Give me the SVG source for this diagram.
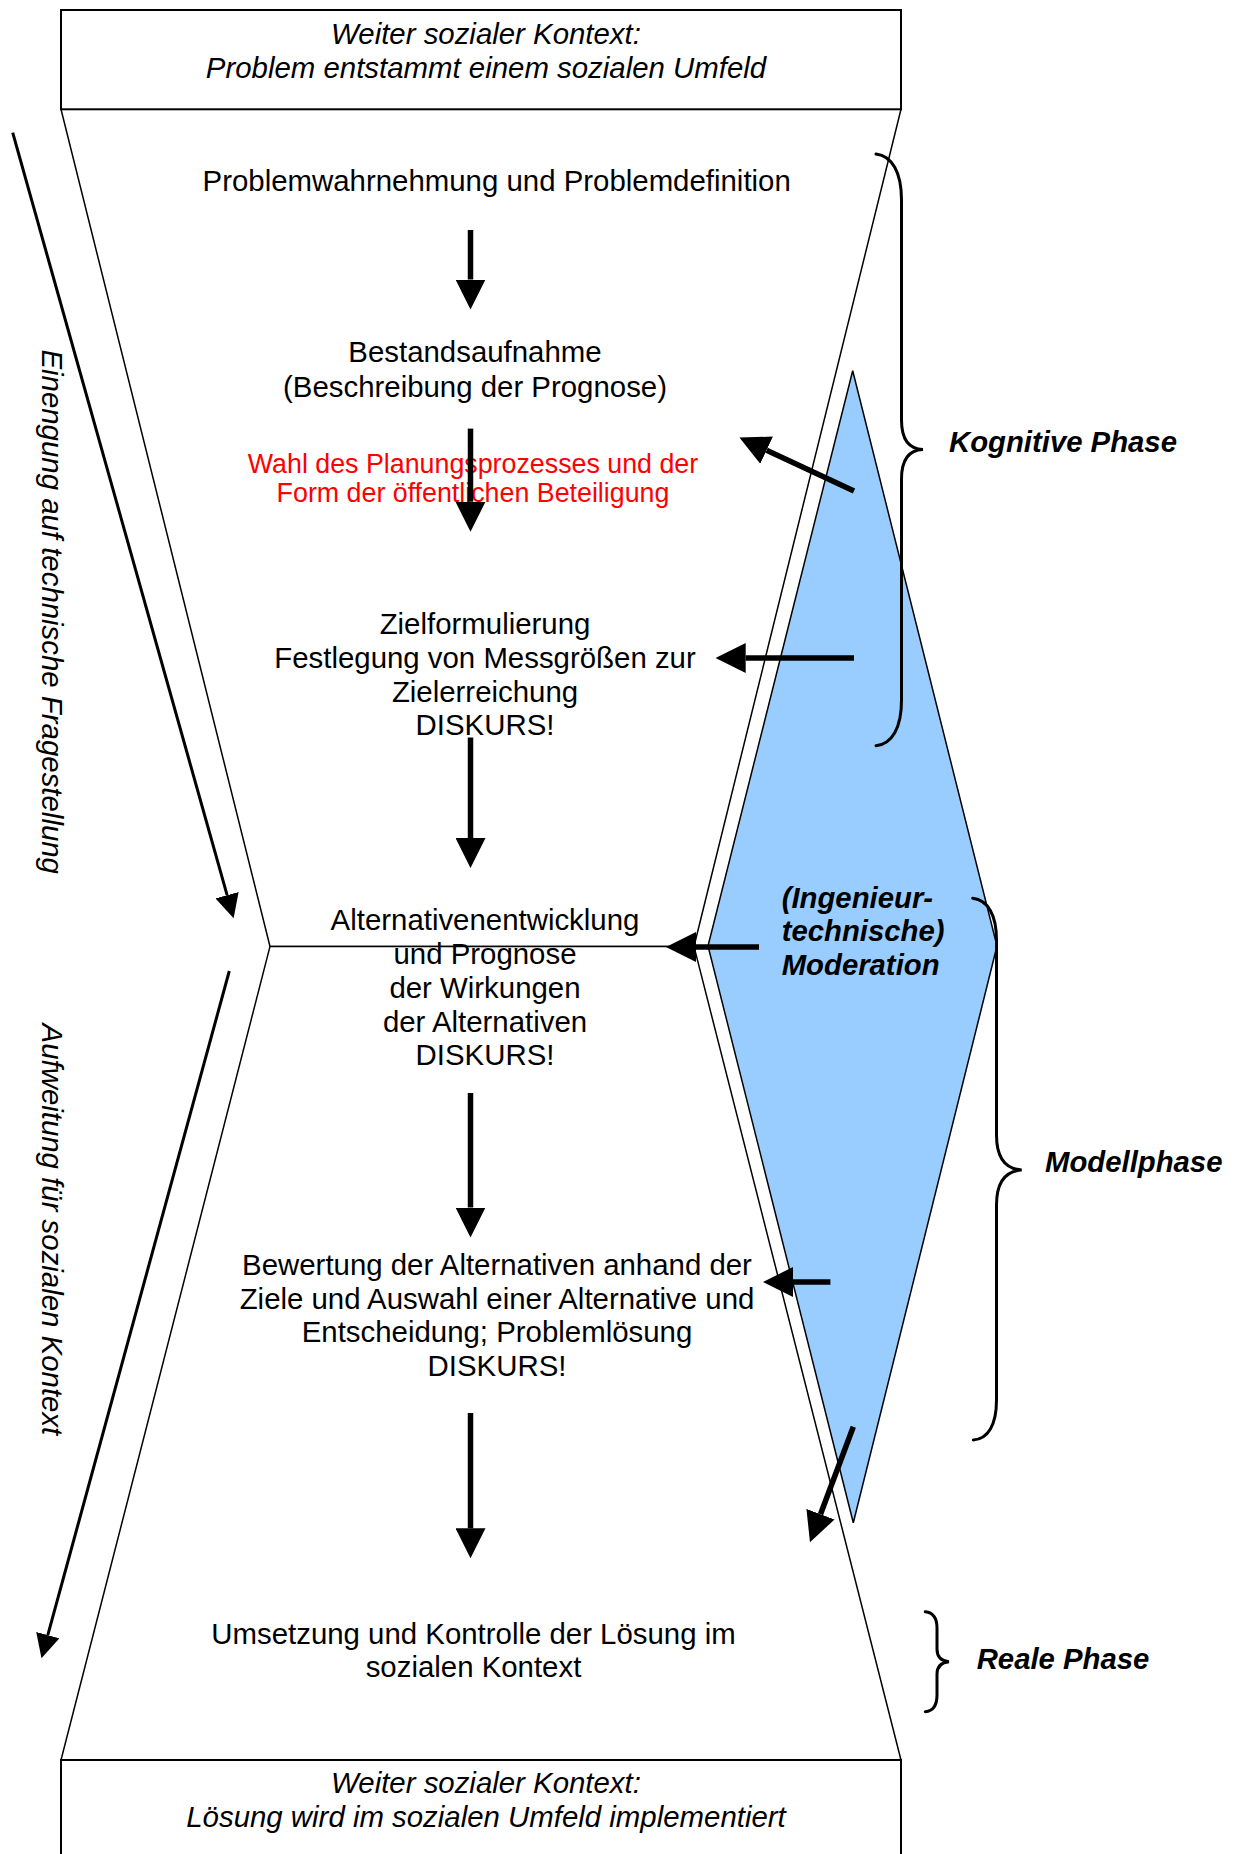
<svg xmlns="http://www.w3.org/2000/svg" width="1240" height="1854" viewBox="0 0 1240 1854">
<style>
  text { font-family: "Liberation Sans", Arial, sans-serif; fill: #000; }
  .main { font-size: 29.4px; text-anchor: middle; }
  .ital { font-size: 29.4px; font-style: italic; text-anchor: middle; }
  .red { font-size: 26.8px; text-anchor: middle; fill: #FF0000; }
  .phase { font-size: 29.3px; font-style: italic; font-weight: bold; }
  .box { fill: #fff; stroke: #000; stroke-width: 2; }
  .glass { fill: #fff; stroke: #000; stroke-width: 1.5; stroke-linejoin: miter; }
  .diamond { fill: #99CCFF; stroke: #000; stroke-width: 1.5; }
  .thick { stroke: #000; stroke-width: 5.5; fill: none; marker-end: url(#headL); }
  .thin { stroke: #000; stroke-width: 3; fill: none; marker-end: url(#headS); }
  .brace { stroke: #000; stroke-width: 3; fill: none; stroke-linecap: round; }
</style>
<defs>
  <marker id="headL" viewBox="0 0 30 30" refX="0" refY="15" markerWidth="30" markerHeight="30" markerUnits="userSpaceOnUse" orient="auto">
    <path d="M0,0 L30,15 L0,30 z" fill="#000"/>
  </marker>
  <marker id="headS" viewBox="0 0 24 24" refX="0" refY="12" markerWidth="24" markerHeight="24" markerUnits="userSpaceOnUse" orient="auto">
    <path d="M0,0 L24,12 L0,24 z" fill="#000"/>
  </marker>
</defs>
<rect width="1240" height="1854" fill="#fff"/>

<g id="hourglass">
  <polygon class="glass" points="61,109.3 901,109.3 694,946.4 270,946.4"/>
  <polygon class="glass" points="270,946.4 694,946.4 901,1760 61,1760"/>
</g>

<g id="top-box">
  <rect class="box" x="61" y="10" width="840" height="99.3"/>
  <text class="ital" x="486" y="43.5">Weiter sozialer Kontext:</text>
  <text class="ital" x="486" y="77.5">Problem entstammt einem sozialen Umfeld</text>
</g>

<g id="bottom-box">
  <rect class="box" x="61" y="1760" width="840" height="110"/>
  <text class="ital" x="486" y="1793.3">Weiter sozialer Kontext:</text>
  <text class="ital" x="486" y="1827">Lösung wird im sozialen Umfeld implementiert</text>
</g>

<g id="moderation">
  <polygon class="diamond" points="852.7,370.7 997,946 853.3,1522.7 708,946"/>
  <text class="phase" x="781.7" y="907.5">(Ingenieur-</text>
  <text class="phase" x="781.7" y="941">technische)</text>
  <text class="phase" x="781.7" y="974.5">Moderation</text>
</g>

<g id="step-problem">
  <text class="main" x="496.7" y="190.5">Problemwahrnehmung und Problemdefinition</text>
</g>
<g id="step-bestand">
  <text class="main" x="475" y="361.7">Bestandsaufnahme</text>
  <text class="main" x="475" y="396.5">(Beschreibung der Prognose)</text>
</g>
<g id="step-wahl">
  <text class="red" x="473" y="472.5">Wahl des Planungsprozesses und der</text>
  <text class="red" x="473" y="502">Form der öffentlichen Beteiligung</text>
</g>
<g id="step-ziel">
  <text class="main" x="485" y="634">Zielformulierung</text>
  <text class="main" x="485" y="668">Festlegung von Messgrößen zur</text>
  <text class="main" x="485" y="701.8">Zielerreichung</text>
  <text class="main" x="485" y="735">DISKURS!</text>
</g>
<g id="step-alternativ">
  <text class="main" x="485" y="930.4">Alternativenentwicklung</text>
  <text class="main" x="485" y="964.2">und Prognose</text>
  <text class="main" x="485" y="998">der Wirkungen</text>
  <text class="main" x="485" y="1031.6">der Alternativen</text>
  <text class="main" x="485" y="1065.2">DISKURS!</text>
</g>
<g id="step-bewertung">
  <text class="main" x="497" y="1275">Bewertung der Alternativen anhand der</text>
  <text class="main" x="497" y="1308.5">Ziele und Auswahl einer Alternative und</text>
  <text class="main" x="497" y="1342">Entscheidung; Problemlösung</text>
  <text class="main" x="497" y="1375.5">DISKURS!</text>
</g>
<g id="step-umsetzung">
  <text class="main" x="473.5" y="1643.5">Umsetzung und Kontrolle der Lösung im</text>
  <text class="main" x="473.5" y="1677">sozialen Kontext</text>
</g>

<g id="side-labels">
  <text class="ital" transform="translate(41.5,611.7) rotate(90)">Einengung auf technische Fragestellung</text>
  <text class="ital" transform="translate(41.5,1229.4) rotate(90)">Aufweitung für sozialen Kontext</text>
</g>

<g id="phase-kognitiv">
  <path class="brace" d="M876,154 C892,156 901.5,172 901.5,200 L901.5,420 C901.5,439 909,449 923,449.5 C909,450 901.5,460 901.5,479 L901.5,700 C901.5,728 892,744 876,745.7"/>
  <text class="phase" x="949" y="452">Kognitive Phase</text>
</g>
<g id="phase-modell">
  <path class="brace" d="M972.7,898.2 C988,900 996.5,915 996.5,940 L996.5,1135 C996.5,1158 1005,1169 1021.7,1170 C1005,1171 996.5,1182 996.5,1205 L996.5,1400 C996.5,1425 988,1439 973.3,1440"/>
  <text class="phase" x="1045" y="1172">Modellphase</text>
</g>
<g id="phase-real">
  <path class="brace" d="M925.3,1611.7 C933,1612.5 937,1618 937,1628 L937,1649 C937,1657 941,1661 949,1661.7 C941,1662.5 937,1666.5 937,1674 L937,1695 C937,1705 933,1711 925.3,1711.7"/>
  <text class="phase" x="976.7" y="1668.5">Reale Phase</text>
</g>

<g id="connectors">
  <line class="thick" x1="470.5" y1="230" x2="470.5" y2="279.5"/>
  <line class="thick" x1="470.5" y1="428.6" x2="470.5" y2="501.7"/>
  <line class="thick" x1="470.5" y1="737.5" x2="470.5" y2="838"/>
  <line class="thick" x1="470.5" y1="1093" x2="470.5" y2="1207.5"/>
  <line class="thick" x1="470.5" y1="1413" x2="470.5" y2="1528.3"/>
  <line class="thick" x1="854" y1="491" x2="766.6" y2="450.2"/>
  <line class="thick" x1="854" y1="658" x2="745.7" y2="658"/>
  <line class="thick" x1="759" y1="947" x2="696" y2="947"/>
  <line class="thick" x1="830.4" y1="1282" x2="793" y2="1282"/>
  <line class="thick" x1="853.3" y1="1426.7" x2="820.5" y2="1514.2"/>
  <line class="thin" x1="12.7" y1="132.7" x2="227.1" y2="895.2"/>
  <line class="thin" x1="229.3" y1="971" x2="47.8" y2="1635.1"/>
</g>
</svg>
